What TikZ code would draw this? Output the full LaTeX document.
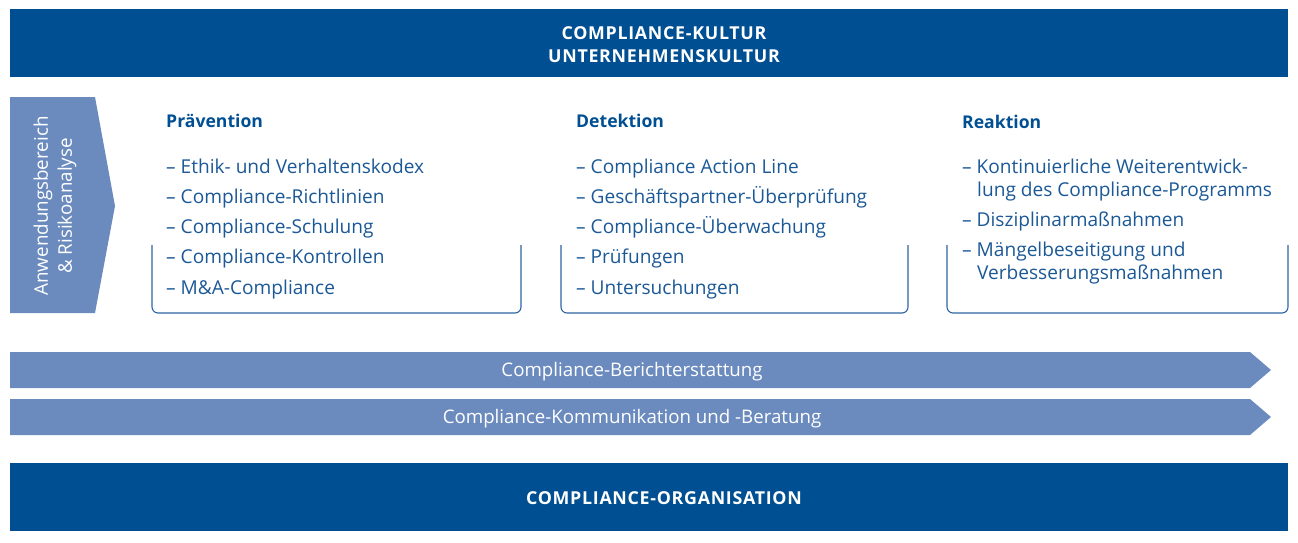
\documentclass[tikz,border=0pt]{standalone}
\usepackage{fontspec}
\setmainfont{Open Sans}
\definecolor{dark}{HTML}{004F92}
\definecolor{mid}{HTML}{6B8BBF}
\definecolor{txt}{HTML}{1B5896}
\definecolor{brk}{HTML}{2D64A0}
\newfontfamily\capsfont[LetterSpace=4]{Open Sans}
\begin{document}
\begin{tikzpicture}[x=1pt,y=-1pt,
  band/.style={fill=dark},
  lightshape/.style={fill=mid},
  bandtext/.style={text=white,font=\capsfont\bfseries\fontsize{17.8}{23}\selectfont,align=center},
  arrowtext/.style={text=white,font=\fontsize{18.7}{20}\selectfont},
  head/.style={anchor=base west,inner sep=0pt,text=dark,font=\bfseries\fontsize{17.6}{20}\selectfont},
  item/.style={anchor=base west,inner sep=0pt,text=txt,font=\fontsize{19.1}{23}\selectfont,align=left},
  bracket/.style={draw=brk,line width=1.1pt,rounded corners=6pt}]
\useasboundingbox (0,0) rectangle (1298,542);
% top band
\fill[band] (10,9) rectangle (1288,77);
\node[bandtext] (top) at (664,45) {COMPLIANCE-KULTUR\\UNTERNEHMENSKULTUR};
% bottom band
\fill[band] (10,463) rectangle (1288,531);
\node[bandtext] (bottom) at (664,498) {COMPLIANCE-ORGANISATION};
% left pentagon
\fill[lightshape] (10,97) -- (95,97) -- (115,206) -- (95,313) -- (10,313) -- cycle;
\node[text=white,rotate=90,align=center,font=\fontsize{18.8}{24}\selectfont] (anw) at (55,206) {Anwendungsbereich\\\& Risikoanalyse};
% arrows
\fill[lightshape] (10,352) -- (1250,352) -- (1271,370) -- (1250,388) -- (10,388) -- cycle;
\node[arrowtext] (ber) at (632,372) {Compliance-Berichterstattung};
\fill[lightshape] (10,399) -- (1250,399) -- (1271,417) -- (1250,435) -- (10,435) -- cycle;
\node[arrowtext] (kom) at (632,419) {Compliance-Kommunikation und -Beratung};
% brackets
\draw[bracket] (152,245) -- (152,313) -- (521,313) -- (521,245);
\draw[bracket] (561,245) -- (561,313) -- (908,313) -- (908,245);
\draw[bracket] (947,245) -- (947,313) -- (1288,313) -- (1288,245);
% Prävention
\node[head] (hp) at (166,127) {Prävention};
\node[item] (p1) at (166,173) {– Ethik- und Verhaltenskodex};
\node[item] (p2) at (166,203) {– Compliance-Richtlinien};
\node[item] (p3) at (166,233) {– Compliance-Schulung};
\node[item] (p4) at (166,263) {– Compliance-Kontrollen};
\node[item] (p5) at (166,294) {– M\&A-Compliance};
% Detektion
\node[head] (hd) at (576,127) {Detektion};
\node[item] (d1) at (576,173) {– Compliance Action Line};
\node[item] (d2) at (576,203) {– Geschäftspartner-Überprüfung};
\node[item] (d3) at (576,233) {– Compliance-Überwachung};
\node[item] (d4) at (576,263) {– Prüfungen};
\node[item] (d5) at (576,294) {– Untersuchungen};
% Reaktion
\node[head] (hr) at (962,128) {Reaktion};
\node[item] (r1) at (962,173) {– Kontinuierliche Weiterentwick-};
\node[item] (r1b) at (977,196) {lung des Compliance-Programms};
\node[item] (r2) at (962,226) {– Disziplinarmaßnahmen};
\node[item] (r3) at (962,256) {– Mängelbeseitigung und};
\node[item] (r3b) at (977,279) {Verbesserungsmaßnahmen};
\end{tikzpicture}
\end{document}
